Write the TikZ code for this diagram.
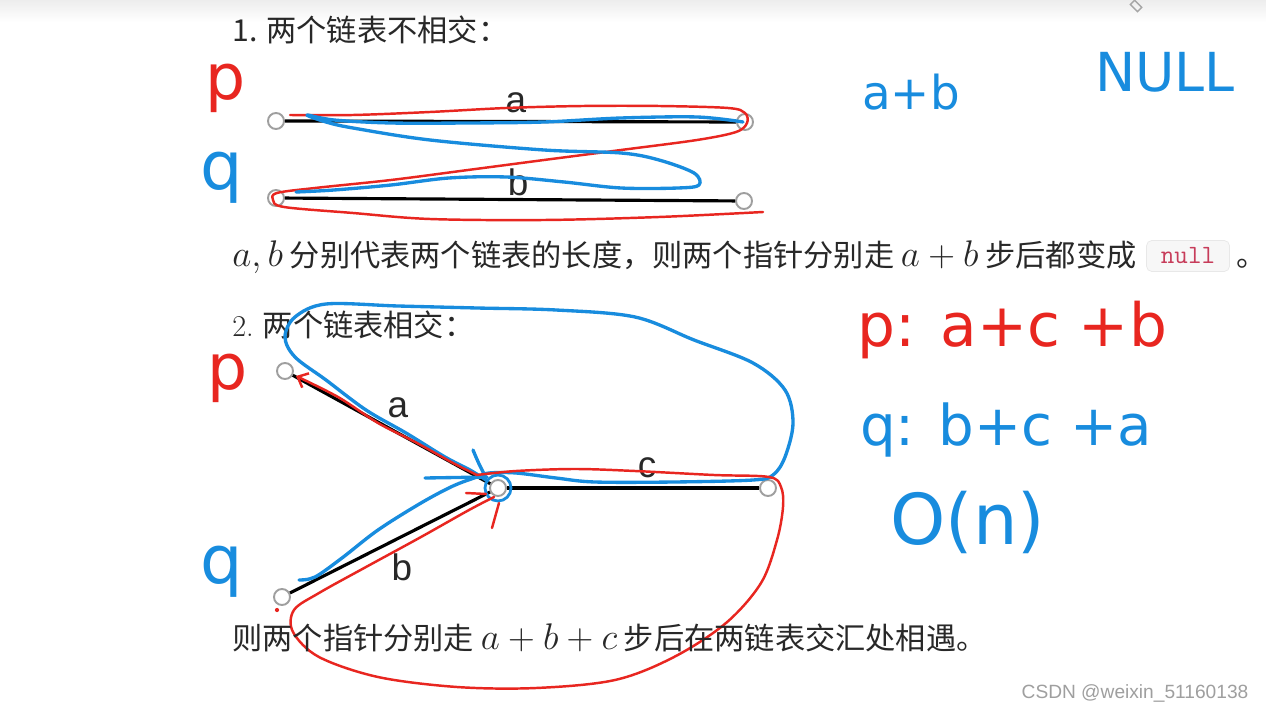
\documentclass[tikz,border=0pt]{standalone}
\usepackage{fontspec}
\usetikzlibrary{arrows.meta}
\newfontfamily\cjk{Noto Sans CJK SC}
\newfontfamily\labelfont{Liberation Sans}
\newfontfamily\handfont{DejaVu Sans}
\definecolor{penred}{RGB}{232,38,32}
\definecolor{penblue}{RGB}{24,140,222}
\definecolor{codered}{RGB}{199,60,90}
\definecolor{textgray}{RGB}{40,40,40}
\newcommand{\mth}[1]{\scalebox{1.22}{$#1$}}

\tikzset{
  listnode/.style={circle, draw=gray!75, fill=white, line width=1.1pt, minimum size=0.32cm, inner sep=0pt},
  listedge/.style={line width=1.8pt, black},
  redpen/.style={penred, line width=1.4pt, line cap=round, line join=round},
  bluepen/.style={penblue, line width=1.9pt, line cap=round, line join=round},
  bodytext/.style={anchor=base west, inner sep=0pt, text=textgray, font=\cjk\fontsize{17.2}{20}\selectfont},
  edgelabel/.style={inner sep=0pt, text=textgray, font=\labelfont\fontsize{21}{22}\selectfont},
  handred/.style={inner sep=0pt, text=penred, font=\handfont},
  handblue/.style={inner sep=0pt, text=penblue, font=\handfont}
}

\begin{document}
\begin{tikzpicture}[x=0.02cm, y=-0.02cm]
    \useasboundingbox (0,0) rectangle (1266,712);
    \fill[white] (0,0) rectangle (1266,712);
    \shade[top color=gray!14, bottom color=white] (0,0) rectangle (1266,22);

    % pen cursor
    \draw[gray!70, line width=0.8pt, rotate around={-45:(1136,6)}] (1131,3) rectangle (1141,9);

    % 1. lists that never meet
    \node[bodytext] (head1) at (232,42) {1. 两个链表不相交：};

    \node[listnode] (a1) at (276,121) {};
    \node[listnode] (a2) at (745,122) {};
    \node[listnode] (b1) at (276,198) {};
    \node[listnode] (b2) at (744,201) {};
    \draw[listedge] (a1) -- (a2);
    \draw[listedge] (b1) -- (b2);
    \node[edgelabel] (la1) at (516,103) {a};
    \node[edgelabel] (lb1) at (518,182) {b};

    % red walk, part 1
    \draw[redpen] plot[smooth, tension=0.55] coordinates {(290,115) (353,115) (430,112) (506,108) (583,106) (659,106) (728,108) (745,113) (747,123) (736,132) (697,140) (621,150) (544,160) (468,170) (391,180) (315,188) (277,193) (273,200) (284,207) (353,213) (430,219) (544,220) (659,217) (763,212)};
    % blue walk, part 1
    \draw[bluepen] plot[smooth, tension=0.55] coordinates {(743,122) (697,117) (621,118) (544,122) (468,123) (391,123) (334,120) (307,115) (326,122) (353,128) (430,140) (544,150) (621,153) (659,160) (694,173) (699,185) (678,188) (621,188) (564,182) (506,177) (449,178) (391,185) (334,190) (296,192)};

    \node[handred, font=\handfont\fontsize{36}{36}\selectfont] (p1) at (226,88) {p};
    \node[handblue, font=\handfont\fontsize{38}{38}\selectfont] (q1) at (222,178) {q};
    \node[handblue, font=\handfont\fontsize{26.6}{27}\selectfont] (sum1) at (911,92) {a+b};
    \node[handblue, font=\handfont\fontsize{30.6}{31}\selectfont] (null1) at (1165,72) {NULL};

    \node[bodytext] (line1) at (232,267) {\mth{a,b} 分别代表两个链表的长度，则两个指针分别走 \mth{a+b} 步后都变成};
    \node[draw=gray!18, fill=gray!6, rounded corners=3pt, minimum width=1.66cm, minimum height=0.62cm, inner sep=0pt, text=codered, font=\ttfamily\fontsize{15}{16}\selectfont] (nullbox) at (1188,256) {null};
    \node[bodytext] (stop1) at (1236,267) {。};

    % 2. lists that meet
    \node[bodytext] (head2) at (232,337) {{\rmfamily 2.} 两个链表相交：};

    \node[listnode] (pn) at (285,371) {};
    \node[listnode] (mid) at (498,488) {};
    \node[listnode] (rn) at (768,488) {};
    \node[listnode] (qn) at (282,597) {};
    \draw[listedge] (pn) -- (mid);
    \draw[listedge] (mid) -- (rn);
    \draw[listedge] (qn) -- (mid);
    \node[edgelabel] (la2) at (398,408) {a};
    \node[edgelabel] (lc2) at (647,468) {c};
    \node[edgelabel] (lb2) at (402,567) {b};

    % blue walk, part 2
    \draw[penblue, line width=1.6pt] (mid) circle[radius=0.26cm];
    \draw[bluepen] plot[smooth, tension=0.55] coordinates {(299,580) (315,577) (342,558) (378,530) (421,503) (453,486) (477,477) (489,473) (516,473) (556,478) (595,482) (674,482) (753,480) (773,475) (785,457) (793,423) (785,390) (753,363) (694,340) (635,317) (556,310) (477,308) (398,306) (326,304) (295,317) (285,337) (295,357) (326,380) (366,410) (406,433) (445,457) (470,470) (486,480)};
    \draw[bluepen] (425,478) -- (487,477);
    \draw[bluepen] (473,450) .. controls (478,462) .. (486,478);

    % red walk, part 2
    \draw[redpen, -{Straight Barb[length=5pt, width=9pt]}] plot[smooth, tension=0.55] coordinates {(477,475) (453,463) (417,443) (378,423) (338,397) (296,376)};
    \draw[redpen] plot[smooth, tension=0.55] coordinates {(477,475) (516,471) (575,469) (635,471) (714,475) (769,477) (781,487) (783,507) (777,540) (761,583) (726,623) (674,657) (615,680) (536,688) (457,687) (378,677) (319,657) (293,632) (294,610) (319,593) (366,567) (421,537) (469,510) (494,497)};
    \draw[redpen] (466,493) -- (486,494);
    \draw[redpen] (499,503) -- (492,528);
    \fill[penred] (277,610) circle[radius=1.2pt];

    \node[handred, font=\handfont\fontsize{36}{36}\selectfont] (p2) at (228,378) {p};
    \node[handblue, font=\handfont\fontsize{38}{38}\selectfont] (q2) at (222,572) {q};
    \node[handred, font=\handfont\fontsize{34}{34}\selectfont] (pwalk) at (1012,330) {p: a+c +b};
    \node[handblue, font=\handfont\fontsize{32}{32}\selectfont] (qwalk) at (1006,430) {q: b+c +a};
    \node[handblue, font=\handfont\fontsize{40}{40}\selectfont] (cost) at (968,522) {O(n)};

    \node[bodytext] (line2) at (232,649) {则两个指针分别走 \mth{a+b+c} 步后在两链表交汇处相遇。};

    % watermark
    \node[inner sep=0pt, text=gray!75, font=\labelfont\fontsize{10.9}{12}\selectfont] (mark) at (1135,693) {CSDN @weixin\_51160138};
\end{tikzpicture}
\end{document}
